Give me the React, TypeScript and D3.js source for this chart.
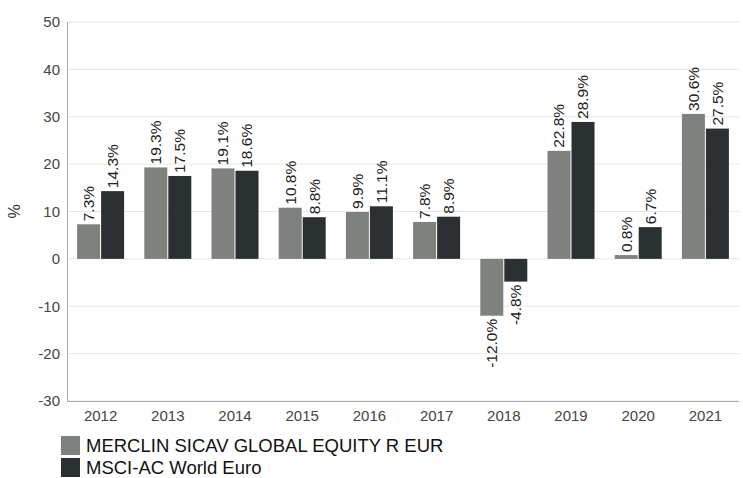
import React from "react";
import * as d3 from "d3";

const years = ["2012", "2013", "2014", "2015", "2016", "2017", "2018", "2019", "2020", "2021"];
const fund = [7.3, 19.3, 19.1, 10.8, 9.9, 7.8, -12.0, 22.8, 0.8, 30.6];
const index = [14.3, 17.5, 18.6, 8.8, 11.1, 8.9, -4.8, 28.9, 6.7, 27.5];
const yTicks = [-30, -20, -10, 0, 10, 20, 30, 40, 50];
const seriesNames = ["MERCLIN SICAV GLOBAL EQUITY R EUR", "MSCI-AC World Euro"];
const colors = ["#7f817e", "#2b3133"];

export default function App() {
  const W = 743, H = 478;
  const left = 67, right = 739, top = 22, bottom = 401;
  const x = d3.scaleBand().domain(years).range([left, right]).paddingInner(0).paddingOuter(0);
  const y = d3.scaleLinear().domain([-30, 50]).range([bottom, top]);
  const bw = 23;
  const font = "Arial, 'Liberation Sans', sans-serif";
  const series = [fund, index];
  return (
    <svg width={W} height={H} style={{ position: "absolute", left: 0, top: 0 }} fontFamily={font}>
      <rect width={W} height={H} fill="#fff" />
      {yTicks.map((t) => (
        <g key={t}>
          <line x1={left} x2={right} y1={y(t)} y2={y(t)} stroke="#e6e6e6" strokeWidth={1} />
          <text x={left - 7} y={y(t)} dy="0.35em" textAnchor="end" fontSize={15} fill="#444">{t}</text>
        </g>
      ))}
      <text transform={`translate(20,${(top + bottom) / 2}) rotate(-90)`} textAnchor="middle" fontSize={16} fill="#333">%</text>
      {years.map((yr, i) => {
        const cx = x(yr)! + x.bandwidth() / 2;
        return (
          <g key={yr}>
            {series.map((s, j) => {
              const v = s[i];
              const bx = j === 0 ? cx - bw - 0.5 : cx + 0.5;
              const y0 = y(0), y1 = y(v);
              const label = v.toFixed(1) + "%";
              const lx = bx + bw / 2;
              return (
                <g key={j}>
                  <rect x={bx} y={Math.min(y0, y1)} width={bw} height={Math.abs(y1 - y0)} fill={colors[j]} />
                  {v >= 0 ? (
                    <text transform={`translate(${lx},${y1 - 3}) rotate(-90)`} dy="0.35em" textAnchor="start" fontSize={15.5} fill="#222">{label}</text>
                  ) : (
                    <text transform={`translate(${lx},${y1 + 3}) rotate(-90)`} dy="0.35em" textAnchor="end" fontSize={15.5} fill="#222">{label}</text>
                  )}
                </g>
              );
            })}
            <text x={cx} y={bottom + 20} textAnchor="middle" fontSize={15} fill="#444">{yr}</text>
          </g>
        );
      })}
      <line x1={left + 0.5} x2={left + 0.5} y1={top} y2={bottom} stroke="#aaa" />
      <line x1={left} x2={right} y1={bottom + 0.5} y2={bottom + 0.5} stroke="#aaa" />
      {seriesNames.map((n, j) => (
        <g key={n}>
          <rect x={61} y={436 + j * 22} width={19} height={19} fill={colors[j]} />
          <text x={86} y={452 + j * 22} fontSize={18.5} fill="#111">{n}</text>
        </g>
      ))}
    </svg>
  );
}
